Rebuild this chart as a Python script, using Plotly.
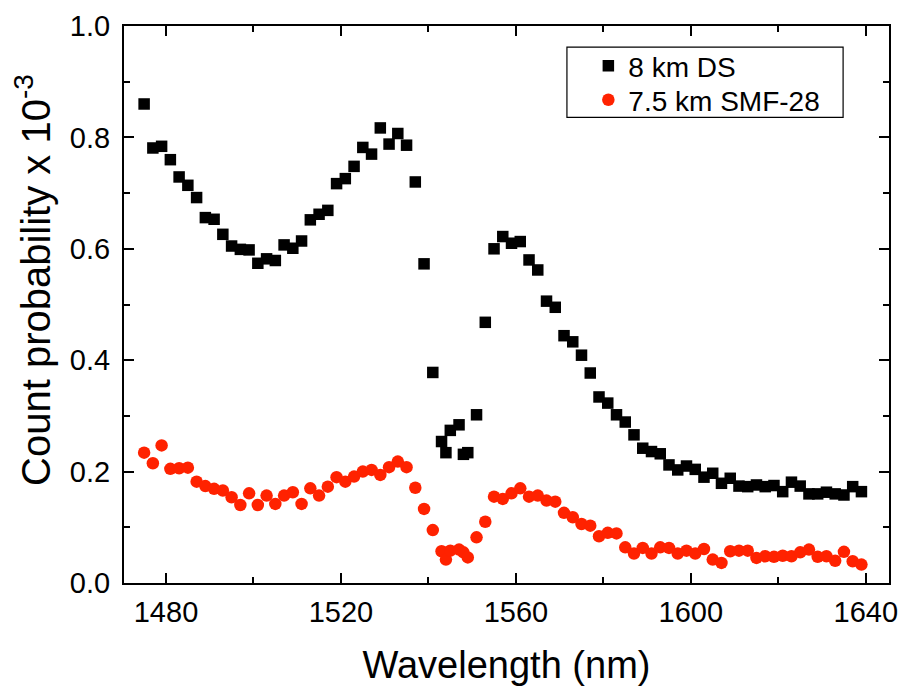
import plotly.graph_objects as go

wavelength = [1475, 1477, 1479, 1481, 1483, 1485, 1487, 1489, 1491, 1493, 1495, 1497,
              1499, 1501, 1503, 1505, 1507, 1509, 1511, 1513, 1515, 1517, 1519, 1521,
              1523, 1525, 1527, 1529, 1531, 1533, 1535, 1537, 1539, 1541,
              1543, 1544, 1545, 1547, 1548, 1549, 1551,
              1553, 1555, 1557, 1559, 1561, 1563, 1565, 1567, 1569, 1571, 1573, 1575,
              1577, 1579, 1581, 1583, 1585, 1587, 1589, 1591, 1593, 1595, 1597, 1599,
              1601, 1603, 1605, 1607, 1609, 1611, 1613, 1615, 1617, 1619, 1621, 1623,
              1625, 1627, 1629, 1631, 1633, 1635, 1637, 1639]

ds_8km = [0.860, 0.781, 0.784, 0.760, 0.729, 0.714, 0.692, 0.656, 0.653, 0.626, 0.605, 0.599,
          0.598, 0.574, 0.582, 0.579, 0.607, 0.601, 0.614, 0.652, 0.662, 0.669, 0.717, 0.726,
          0.748, 0.782, 0.770, 0.817, 0.788, 0.807, 0.786, 0.720, 0.573, 0.378,
          0.254, 0.234, 0.274, 0.284, 0.231, 0.234, 0.302,
          0.468, 0.600, 0.622, 0.610, 0.613, 0.580, 0.562, 0.506, 0.495, 0.444, 0.433, 0.409,
          0.377, 0.334, 0.323, 0.302, 0.289, 0.266, 0.242, 0.236, 0.232, 0.212, 0.203, 0.210,
          0.204, 0.190, 0.197, 0.179, 0.188, 0.174, 0.173, 0.176, 0.173, 0.175, 0.164, 0.181,
          0.174, 0.160, 0.160, 0.163, 0.160, 0.158, 0.173, 0.164]

smf_75km = [0.234, 0.215, 0.247, 0.205, 0.206, 0.207, 0.182, 0.174, 0.169, 0.166, 0.154, 0.140,
            0.161, 0.140, 0.157, 0.142, 0.157, 0.163, 0.142, 0.170, 0.157, 0.173, 0.190, 0.182,
            0.191, 0.200, 0.203, 0.194, 0.208, 0.218, 0.208, 0.171, 0.133, 0.095,
            0.057, 0.042, 0.058, 0.060, 0.055, 0.046, 0.082,
            0.110, 0.155, 0.151, 0.161, 0.170, 0.155, 0.157, 0.148, 0.146, 0.126, 0.118, 0.106,
            0.103, 0.084, 0.090, 0.089, 0.064, 0.053, 0.063, 0.053, 0.064, 0.063, 0.053, 0.058,
            0.053, 0.061, 0.042, 0.036, 0.057, 0.058, 0.058, 0.045, 0.048, 0.047, 0.049, 0.048,
            0.055, 0.060, 0.047, 0.048, 0.040, 0.056, 0.039, 0.033]

series_names = ["8 km DS", "7.5 km SMF-28"]
x_ticks = [1480, 1520, 1560, 1600, 1640]
y_ticks = [0.0, 0.2, 0.4, 0.6, 0.8, 1.0]
x_title = "Wavelength (nm)"
y_title = "Count probability x 10<sup>-3</sup>"

FONT = "Liberation Sans, Arial, sans-serif"

fig = go.Figure()
fig.add_trace(go.Scatter(x=wavelength, y=ds_8km, mode="markers", name=series_names[0],
                         legend="legend",
                         marker=dict(symbol="square", size=11.5, color="black",
                                     line=dict(width=0))))
fig.add_trace(go.Scatter(x=wavelength, y=smf_75km, mode="markers", name=series_names[1],
                         legend="legend2",
                         marker=dict(symbol="circle", size=12.5, color="#FF2200",
                                     line=dict(width=0))))

axis_common = dict(showline=True, linecolor="black", linewidth=2, mirror="ticks",
                   ticks="inside", ticklen=10, tickwidth=2, tickcolor="black",
                   showgrid=False, zeroline=False, automargin=False,
                   tickfont=dict(family=FONT, size=29, color="black"))

fig.update_xaxes(range=[1470.4, 1645.3], tickvals=x_ticks, ticklabelstandoff=2,
                 minor=dict(ticks="inside", ticklen=6, tickwidth=2, tickcolor="black", dtick=20,
                            tick0=1480, showgrid=False),
                 title=dict(text=x_title, font=dict(family=FONT, size=38, color="black"),
                            standoff=27),
                 **axis_common)
fig.update_yaxes(range=[0, 1], tickvals=y_ticks, tickformat=".1f", ticklabelstandoff=6,
                 minor=dict(ticks="inside", ticklen=6, tickwidth=2, tickcolor="black", dtick=0.1,
                            tick0=0, showgrid=False),
                 **axis_common)

# y-axis title placed as a rotated annotation (slightly above the axis centre, as in the reference)
fig.add_annotation(text=y_title, xref="paper", yref="paper", x=-0.119, y=0.544,
                   xanchor="center", yanchor="middle", textangle=-90, showarrow=False,
                   font=dict(family=FONT, size=40, color="black"))

fig.add_shape(type="rect", xref="paper", yref="paper",
              x0=0.579, x1=0.940, y0=0.836, y1=0.962,
              line=dict(color="black", width=1.2), fillcolor="rgba(0,0,0,0)")

legend_style = dict(xanchor="left", yanchor="middle", bgcolor="rgba(0,0,0,0)", borderwidth=0,
                    font=dict(family=FONT, size=28, color="black"))

fig.update_layout(
    width=903, height=686,
    margin=dict(l=124, r=14, t=26, b=103),
    plot_bgcolor="white", paper_bgcolor="white",
    showlegend=True,
    legend=dict(x=0.607, y=0.928, **legend_style),
    legend2=dict(x=0.607, y=0.867, **legend_style),
)

fig.write_html("out.html", config={"displayModeBar": False},
               post_script="document.body.style.margin='0px';")
